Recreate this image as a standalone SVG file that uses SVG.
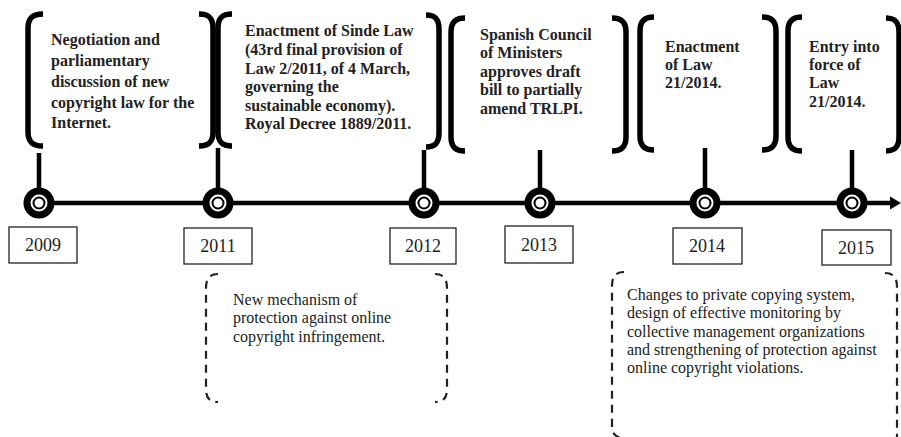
<svg xmlns="http://www.w3.org/2000/svg" width="901" height="437" viewBox="0 0 901 437">
<style>
.br{fill:none;stroke:#000;stroke-width:5.5}
.db{fill:none;stroke:#222;stroke-width:2.2;stroke-dasharray:8 6}
.stem{stroke:#000;stroke-width:4.5}
.yr{fill:#fff;stroke:#222;stroke-width:1.3}
text{font-family:'Liberation Serif','Times New Roman',serif}
.yt{font-size:18px;fill:#222;text-anchor:middle}
.bt{font-size:16px;font-weight:bold;fill:#222}
.nt{font-size:16px;fill:#222}
</style>
<defs>
<g id="dot">
<circle r="15.5" fill="#000"/>
<circle r="8.5" fill="#fff"/>
<circle r="5.5" fill="#fff" stroke="#000" stroke-width="2"/>
</g>
</defs>
<rect width="901" height="437" fill="#fff"/>
<g id="connectors">
<line x1="38" y1="203" x2="893" y2="203" stroke="#000" stroke-width="4.5"/>
<polygon points="890,196.5 901,203 890,209.5" fill="#000"/>
<line class="stem" x1="39" y1="153" x2="39" y2="192"/>
<line class="stem" x1="218" y1="148" x2="218" y2="192"/>
<line class="stem" x1="424" y1="150" x2="424" y2="192"/>
<line class="stem" x1="540" y1="150" x2="540" y2="192"/>
<line class="stem" x1="705" y1="148" x2="705" y2="192"/>
<line class="stem" x1="852" y1="150" x2="852" y2="192"/>
</g>
<g id="node-2009">
<path class="br" d="M43,14 C33,14 28,18 28,28 L28,132 C28,142 33,146 43,146"/>
<path class="br" d="M199,14 C209,14 213,18 213,28 L213,132 C213,142 209,146 199,146"/>
<text class="bt"><tspan x="51" y="45">Negotiation and</tspan><tspan x="51" y="66">parliamentary</tspan><tspan x="51" y="87">discussion of new</tspan><tspan x="51" y="108">copyright law for the</tspan><tspan x="51" y="128">Internet.</tspan></text>
<use href="#dot" x="39" y="203"/>
<rect class="yr" x="9" y="227" width="68" height="36"/>
<text class="yt" x="43" y="251">2009</text>
</g>
<g id="node-2011">
<path class="br" d="M232,14 C222,14 218,18 218,28 L218,132 C218,142 222,146 232,146"/>
<path class="br" d="M426,15 C435,15 439,19 439,29 L439,133 C439,143 435,147 426,147"/>
<text class="bt"><tspan x="245" y="36">Enactment of Sinde Law</tspan><tspan x="245" y="55">(43rd final provision of</tspan><tspan x="245" y="74">Law 2/2011, of 4 March,</tspan><tspan x="245" y="92">governing the</tspan><tspan x="245" y="111">sustainable economy).</tspan><tspan x="245" y="129">Royal Decree 1889/2011.</tspan></text>
<use href="#dot" x="218" y="203"/>
<rect class="yr" x="184" y="228" width="68" height="36"/>
<text class="yt" x="218" y="252">2011</text>
</g>
<g id="node-2012">
<use href="#dot" x="424" y="203"/>
<rect class="yr" x="390" y="228" width="66" height="36"/>
<text class="yt" x="423" y="252">2012</text>
</g>
<g id="node-2013">
<path class="br" d="M465,18 C456,18 451,22 451,32 L451,137 C451,147 456,151 465,151"/>
<path class="br" d="M612,18 C621,18 626,22 626,32 L626,137 C626,147 621,151 612,151"/>
<text class="bt"><tspan x="480" y="40">Spanish Council</tspan><tspan x="480" y="58">of Ministers</tspan><tspan x="480" y="77">approves draft</tspan><tspan x="480" y="95">bill to partially</tspan><tspan x="480" y="114">amend TRLPI.</tspan></text>
<use href="#dot" x="540" y="203"/>
<rect class="yr" x="505" y="226" width="68" height="37"/>
<text class="yt" x="539" y="251">2013</text>
</g>
<g id="node-2014">
<path class="br" d="M654,17 C645,17 640,21 640,31 L640,136 C640,146 645,150 654,150"/>
<path class="br" d="M762,17 C771,17 776,21 776,31 L776,136 C776,146 771,150 762,150"/>
<text class="bt"><tspan x="665" y="52">Enactment</tspan><tspan x="665" y="70">of Law</tspan><tspan x="665" y="88">21/2014.</tspan></text>
<use href="#dot" x="705" y="203"/>
<rect class="yr" x="673" y="228" width="69" height="36"/>
<text class="yt" x="707" y="252">2014</text>
</g>
<g id="node-2015">
<path class="br" d="M802,17 C793,17 788,21 788,31 L788,137 C788,147 793,151 802,151"/>
<path class="br" d="M886,18 C895,18 899,22 899,32 L899,137 C899,147 895,151 886,151"/>
<text class="bt"><tspan x="809" y="52">Entry into</tspan><tspan x="809" y="70">force of</tspan><tspan x="809" y="88">Law</tspan><tspan x="809" y="107">21/2014.</tspan></text>
<use href="#dot" x="852" y="203"/>
<rect class="yr" x="822" y="230" width="69" height="35"/>
<text class="yt" x="856" y="254">2015</text>
</g>
<g id="note-2011">
<path class="db" d="M218,274 C210,274 206,278 206,288 L206,390 C206,398 210,402 218,402"/>
<path class="db" d="M435,274 C443,274 447,278 447,288 L447,390 C447,398 443,402 435,402"/>
<text class="nt"><tspan x="233" y="305">New mechanism of</tspan><tspan x="233" y="323">protection against online</tspan><tspan x="233" y="342">copyright infringement.</tspan></text>
</g>
<g id="note-2014">
<path class="db" d="M624,272 C616,272 612,276 612,286 L612,426 C612,434 616,438 624,438"/>
<path class="db" d="M885,273 C893,273 897,277 897,287 L897,440"/>
<text class="nt"><tspan x="627" y="300">Changes to private copying system,</tspan><tspan x="627" y="318">design of effective monitoring by</tspan><tspan x="627" y="337">collective management organizations</tspan><tspan x="627" y="355">and strengthening of protection against</tspan><tspan x="627" y="373">online copyright violations.</tspan></text>
</g>
</svg>
